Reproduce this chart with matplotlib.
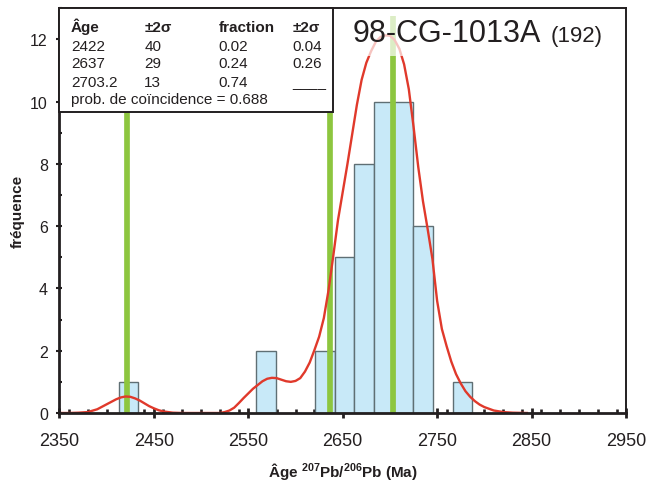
import matplotlib
matplotlib.use('Agg')
import matplotlib.pyplot as plt
from matplotlib.ticker import MultipleLocator
from matplotlib.patches import Rectangle

plt.rcParams['font.family'] = ['Liberation Sans', 'DejaVu Sans']
plt.rcParams['mathtext.fontset'] = 'custom'
plt.rcParams['mathtext.bf'] = 'Liberation Sans:bold'
plt.rcParams['mathtext.rm'] = 'Liberation Sans:bold'
plt.rcParams['mathtext.default'] = 'bf'

# histogram (Ma)
bin_left = [2412.8, 2558.4, 2620.8, 2641.6, 2662.4, 2683.2, 2704.0, 2724.8, 2766.4]
bin_width = 20.8
counts = [1, 2, 2, 5, 8, 10, 10, 6, 1]

# probability curve
curve_age = [2350, 2360, 2370, 2380, 2390, 2400, 2405, 2410, 2415, 2420,
             2425, 2430, 2435, 2440, 2445, 2450, 2455, 2460, 2470, 2480,
             2520, 2525, 2530, 2535, 2540, 2545, 2550, 2555, 2560, 2565,
             2570, 2575, 2580, 2585, 2590, 2595, 2600, 2605, 2610, 2615,
             2620, 2625, 2630, 2635, 2640, 2645, 2650, 2655, 2660, 2665,
             2670, 2675, 2680, 2685, 2690, 2695, 2700, 2705, 2710, 2715,
             2720, 2725, 2730, 2735, 2740, 2745, 2750, 2755, 2760, 2765,
             2770, 2775, 2780, 2785, 2790, 2795, 2800, 2810, 2820, 2830, 2845]
curve_val = [0.0, 0.0, 0.01, 0.03, 0.12, 0.28, 0.36, 0.44, 0.5, 0.53,
             0.52, 0.47, 0.4, 0.31, 0.22, 0.15, 0.09, 0.05, 0.01, 0.0,
             0.0, 0.03, 0.08, 0.17, 0.32, 0.48, 0.63, 0.78, 0.9, 1.02,
             1.1, 1.13, 1.12, 1.07, 1.02, 1.0, 1.03, 1.12, 1.33, 1.62,
             2.02, 2.45, 3.05, 3.95, 5.05, 6.2, 7.1, 8.0, 8.95, 9.9,
             10.7, 11.25, 11.62, 11.92, 12.08, 12.13, 12.12, 11.98, 11.7, 11.2,
             10.4, 9.2, 7.9, 6.8, 5.9, 4.95, 3.6, 2.7, 2.15, 1.65,
             1.25, 0.95, 0.7, 0.52, 0.38, 0.27, 0.19, 0.08, 0.03, 0.01, 0.0]

# fitted components
peak_age = [2422, 2637, 2703.2]
table_rows = [['2422', '40', '0.02', '0.04'],
              ['2637', '29', '0.24', '0.26'],
              ['2703.2', '13', '0.74', '____']]
table_head = ['Âge', '±2σ', 'fraction', '±2σ']
prob_text = 'prob. de coïncidence = 0.688'

ink = '#231f20'

fig = plt.figure(figsize=(6.48, 4.81), dpi=100)
ax = fig.add_axes([0.0918, 0.1393, 0.8742, 0.8414])

ax.bar(bin_left, counts, width=bin_width, align='edge', color='#c8e9f8',
       edgecolor='#5f6f74', linewidth=1.0, zorder=2)
for a in peak_age:
    ax.plot([a, a], [0, 12.75], color='#8dc63f', lw=4.1, solid_capstyle='butt', zorder=3)
ax.plot(curve_age, curve_val, color='#e0392b', lw=1.7, zorder=4)

ax.set_xlim(2350, 2950)
ax.set_ylim(0, 13)
ax.set_xticks(range(2350, 2951, 100))
ax.xaxis.set_minor_locator(MultipleLocator(20))
ax.set_yticks(range(0, 13, 2))
ax.yaxis.set_minor_locator(MultipleLocator(1))

ax.tick_params(axis='x', which='major', direction='inout', length=7.2, width=2.0,
               labelsize=13, pad=10, colors=ink)
ax.tick_params(axis='x', which='minor', direction='in', length=2.9, width=1.9, colors=ink)
ax.tick_params(axis='y', which='major', direction='inout', length=4.8, width=1.5,
               labelsize=11.5, pad=6, colors=ink)
ax.tick_params(axis='y', which='minor', direction='in', length=2.2, width=1.5, colors=ink)

for s in ['left', 'bottom']:
    ax.spines[s].set_linewidth(2.0)
for s in ['top', 'right']:
    ax.spines[s].set_linewidth(1.4)
for s in ax.spines.values():
    s.set_color(ink)
    s.set_zorder(6)

ax.set_ylabel('fréquence', fontsize=11, fontweight='bold', color=ink, labelpad=4)
ax.set_xlabel('Âge $^{207}$Pb/$^{206}$Pb (Ma)', fontsize=11, fontweight='bold',
              color=ink, labelpad=8)

# table box
ax.add_patch(Rectangle((0, 0.743), 0.483, 0.257, transform=ax.transAxes,
                       facecolor='white', edgecolor=ink, lw=1.4, zorder=7,
                       clip_on=False))
col_x = [0.0203, 0.1497, 0.2803, 0.4109]
row_y = [0.897, 0.855, 0.808]
for x, h in zip(col_x, table_head):
    ax.text(x, 0.944, h, transform=ax.transAxes, fontsize=11, fontweight='bold',
            color=ink, va='baseline', zorder=8)
for y, row in zip(row_y, table_rows):
    for x, v in zip(col_x, row):
        ax.text(x, y, v, transform=ax.transAxes, fontsize=11, color=ink,
                va='baseline', zorder=8)
ax.text(col_x[0], 0.766, prob_text, transform=ax.transAxes, fontsize=11,
        color=ink, va='baseline', zorder=8)

# sample name
ax.add_patch(Rectangle((0.504, 0.882), 0.477, 0.101, transform=ax.transAxes,
                       facecolor='white', edgecolor='none', alpha=0.7, zorder=5))
ax.text(0.518, 0.920, '98-CG-1013A', transform=ax.transAxes, fontsize=22,
        color=ink, va='baseline', zorder=8)
ax.text(0.867, 0.920, '(192)', transform=ax.transAxes, fontsize=16,
        color=ink, va='baseline', zorder=8)

fig.savefig('out.png', dpi=100)
